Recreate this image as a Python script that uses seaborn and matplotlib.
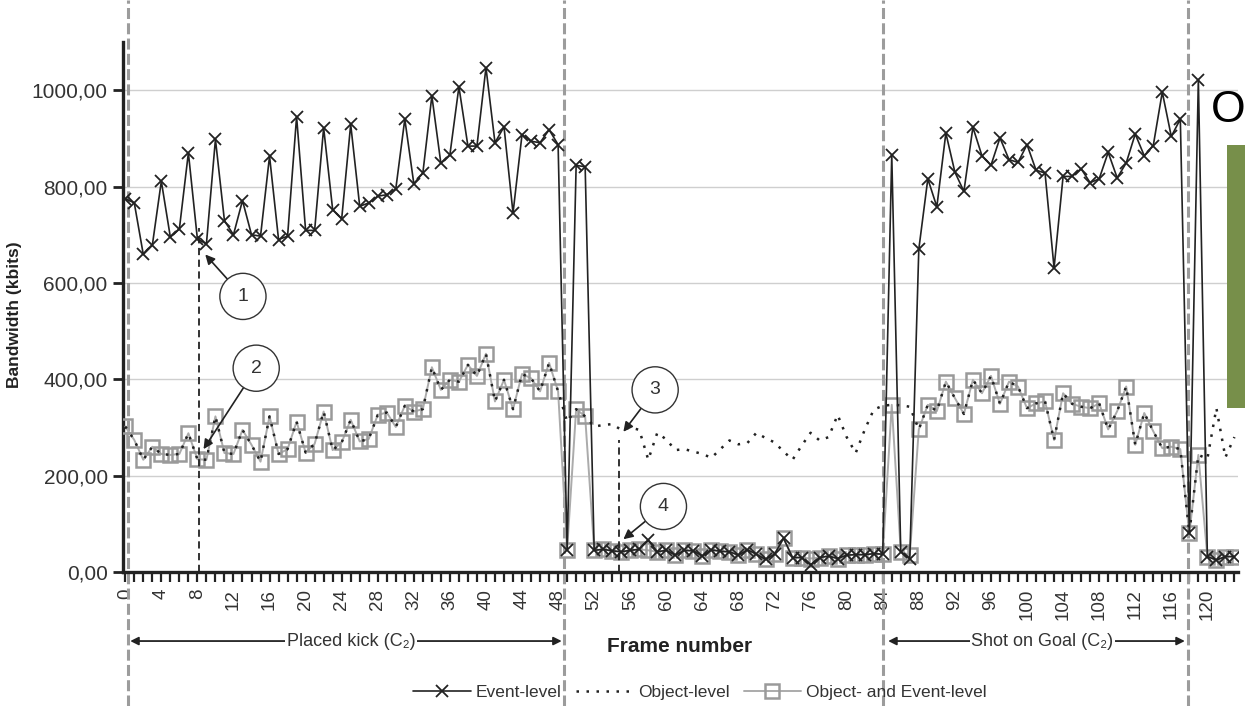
import numpy as np
import matplotlib.pyplot as plt
import matplotlib.transforms as mtransforms
from matplotlib.lines import Line2D
from matplotlib.patches import Rectangle
import seaborn as sns

sns.set_theme(style='white')
plt.rcParams['font.family'] = ['Liberation Sans', 'DejaVu Sans']

# frame numbers 0..123
frames = np.arange(124)

# Event-level bandwidth (kbits)
event_level = [775, 766, 659, 678, 811, 695, 712, 870, 691, 681,
               898, 729, 700, 771, 700, 697, 863, 690, 697, 945,
               709, 709, 922, 752, 733, 929, 759, 766, 780, 783,
               795, 940, 806, 828, 988, 848, 866, 1007, 884, 884,
               1047, 891, 924, 745, 908, 894, 891, 918, 887, 46,
               844, 841, 45, 47, 44, 42, 45, 47, 66, 42,
               45, 35, 45, 44, 33, 46, 43, 42, 35, 46,
               37, 26, 37, 70, 30, 30, 15, 30, 33, 28,
               35, 36, 36, 38, 37, 866, 42, 28, 670, 816,
               758, 911, 830, 790, 923, 864, 844, 901, 856, 850,
               887, 834, 828, 631, 821, 821, 837, 808, 816, 871,
               818, 849, 909, 864, 885, 996, 904, 940, 80, 1022,
               32, 25, 32, 32]

# Object-level bandwidth (kbits)
object_level = [302, 274, 233, 260, 245, 243, 245, 288, 234, 233,
                323, 247, 245, 295, 264, 229, 323, 245, 255, 312,
                248, 266, 333, 253, 269, 316, 271, 276, 326, 331,
                301, 345, 333, 338, 425, 378, 399, 395, 430, 407,
                453, 354, 399, 338, 411, 402, 375, 434, 375, 312,
                338, 323, 302, 305, 307, 295, 300, 295, 233, 289,
                275, 253, 255, 250, 245, 237, 255, 273, 265, 268,
                289, 278, 269, 250, 233, 262, 289, 273, 280, 326,
                280, 247, 295, 337, 345, 347, 346, 343, 296, 347,
                334, 395, 361, 328, 399, 371, 407, 349, 395, 385,
                340, 350, 354, 274, 371, 349, 343, 340, 350, 296,
                334, 385, 264, 330, 292, 257, 260, 255, 80, 243,
                235, 340, 238, 280]

# Object- and Event-level bandwidth (kbits)
combined_level = [302, 274, 233, 260, 245, 243, 245, 288, 234, 233,
                  323, 247, 245, 295, 264, 229, 323, 245, 255, 312,
                  248, 266, 333, 253, 269, 316, 271, 276, 326, 331,
                  301, 345, 333, 338, 425, 378, 399, 395, 430, 407,
                  453, 354, 399, 338, 411, 402, 375, 434, 375, 46,
                  338, 323, 45, 47, 44, 42, 45, 47, 45, 42,
                  45, 35, 45, 44, 33, 46, 43, 42, 35, 46,
                  37, 26, 37, 70, 30, 30, 28, 30, 33, 28,
                  35, 36, 36, 38, 37, 347, 42, 35, 296, 347,
                  334, 395, 361, 328, 399, 371, 407, 349, 395, 385,
                  340, 350, 354, 274, 371, 349, 343, 340, 350, 296,
                  334, 385, 264, 330, 292, 257, 260, 255, 80, 243,
                  32, 25, 32, 32]

y_ticks = [0, 200, 400, 600, 800, 1000]
x_ticks = list(range(0, 124, 4))

# scene boundaries (frames) and labelled phases
boundaries = [0.35, 48.7, 84, 117.9]
phases = [('Placed kick (C\u2082)', 0.55, 48.4, 25.05),
          ('Shot on Goal (C\u2082)', 84.6, 117.5, 101.7)]

# numbered callouts: label, circle centre, arrow tip (frame, kbits)
callouts = [('1', (13.05, 572), (8.87, 659)),
            ('2', (14.52, 423), (8.68, 255)),
            ('3', (58.76, 378), (55.24, 291)),
            ('4', (59.68, 136), (55.24, 68))]

fig = plt.figure(figsize=(12.45, 7.06), dpi=100)
ax = fig.add_axes([0.0988, 0.1898, 0.8956, 0.7507])

dark = '#222222'
sns.lineplot(x=frames, y=combined_level, ax=ax, color='#ababab', linewidth=1.4,
             marker='s', markersize=10, markerfacecolor='none',
             markeredgecolor='#9a9a9a', markeredgewidth=1.8,
             errorbar=None, label='Object- and Event-level', zorder=3)
sns.lineplot(x=frames, y=event_level, ax=ax, color=dark, linewidth=1.2,
             marker='x', markersize=8, markeredgecolor=dark, markeredgewidth=1.3,
             errorbar=None, label='Event-level', zorder=4)
sns.lineplot(x=frames, y=object_level, ax=ax, color=dark, linewidth=1.8,
             linestyle=(0, (1, 3)), errorbar=None, label='Object-level', zorder=5)

ax.set_xlim(-0.25, 123.4)
ax.set_ylim(0, 1100)
ax.set_xticks(x_ticks)
ax.set_xticks(frames, minor=True)
ax.set_xticklabels([str(t) for t in x_ticks], rotation=90, fontsize=13.5, color='#333333')
ax.set_yticks(y_ticks)
ax.set_yticklabels([f'{v:.2f}'.replace('.', ',') for v in y_ticks], fontsize=15, color='#333333')
ax.tick_params(axis='x', which='both', direction='out', length=7, width=1.6,
               color=dark, bottom=True, pad=5)
ax.tick_params(axis='y', direction='out', length=7, width=2, color=dark, left=True, pad=4)
ax.set_xlabel('')
ax.set_ylabel('')

for s in ['top', 'right']:
    ax.spines[s].set_visible(False)
for s in ['left', 'bottom']:
    ax.spines[s].set_color(dark)
    ax.spines[s].set_linewidth(2.4)

ax.yaxis.grid(True, color='#cfcfcf', linewidth=1.0)
ax.xaxis.grid(False)
ax.set_axisbelow(True)

# gray dashed scene boundaries across the whole figure height
trans = mtransforms.blended_transform_factory(ax.transData, fig.transFigure)
for b in boundaries:
    ax.add_line(Line2D([b, b], [0, 1], transform=trans, color='#9c9c9c',
                       linewidth=2.2, linestyle=(0, (3.6, 1.4)), clip_on=False, zorder=2))

# black dashed markers for callouts
ax.plot([8.2, 8.2], [0, 715], color=dark, linewidth=1.3, linestyle=(0, (4, 2.5)), zorder=6)
ax.plot([54.7, 54.7], [0, 275], color=dark, linewidth=1.3, linestyle=(0, (4, 2.5)), zorder=6)

for label, centre, tip in callouts:
    ax.annotate(label, xy=tip, xytext=centre, ha='center', va='center',
                fontsize=14, color='#333333', zorder=7,
                bbox=dict(boxstyle='circle,pad=0.75', fc='white', ec='#333333', lw=1.0),
                arrowprops=dict(arrowstyle='-|>', color=dark, lw=1.2,
                                mutation_scale=14, shrinkA=0, shrinkB=0))

# phase arrows below the axis
for text, x0, x1, xc in phases:
    ax.annotate('', xy=(x1, 0.092), xytext=(x0, 0.092), xycoords=trans,
                textcoords=trans, annotation_clip=False,
                arrowprops=dict(arrowstyle='<|-|>', color=dark, lw=1.3,
                                mutation_scale=12, shrinkA=0, shrinkB=0))
    ax.text(xc, 0.092, text, transform=trans, ha='center', va='center',
            fontsize=13, color='#333333', clip_on=False,
            bbox=dict(fc='white', ec='none', pad=1))

fig.text(680 / 1245, 1 - 646 / 706, 'Frame number', ha='center', va='center',
         fontsize=15, fontweight='bold', color='#222222')
fig.text(15 / 1245, 1 - 315 / 706, 'Bandwidth (kbits)', rotation=90, ha='center',
         va='center', fontsize=12.5, fontweight='bold', color='#222222')

# legend at the bottom
handles, labels = ax.get_legend_handles_labels()
if ax.get_legend() is not None:
    ax.get_legend().remove()
order = [labels.index('Event-level'), labels.index('Object-level'),
         labels.index('Object- and Event-level')]
fig.legend([handles[i] for i in order], [labels[i] for i in order], ncol=3,
           loc='center', bbox_to_anchor=(700 / 1245, 1 - 692 / 706), frameon=False,
           fontsize=12.5, handlelength=3.3, handletextpad=0.3, columnspacing=0.8,
           labelcolor='#333333')

# overlay artefacts at the top right of the picture
fig.text(1228 / 1245, 1 - 111 / 706, 'O', ha='center', va='center', fontsize=32,
         color='black')
fig.patches.append(Rectangle((1227 / 1245, 1 - 408 / 706), 18 / 1245, 263 / 706,
                             transform=fig.transFigure, facecolor='#778f4a',
                             edgecolor='none', zorder=10))

fig.savefig('out.png', dpi=100)
